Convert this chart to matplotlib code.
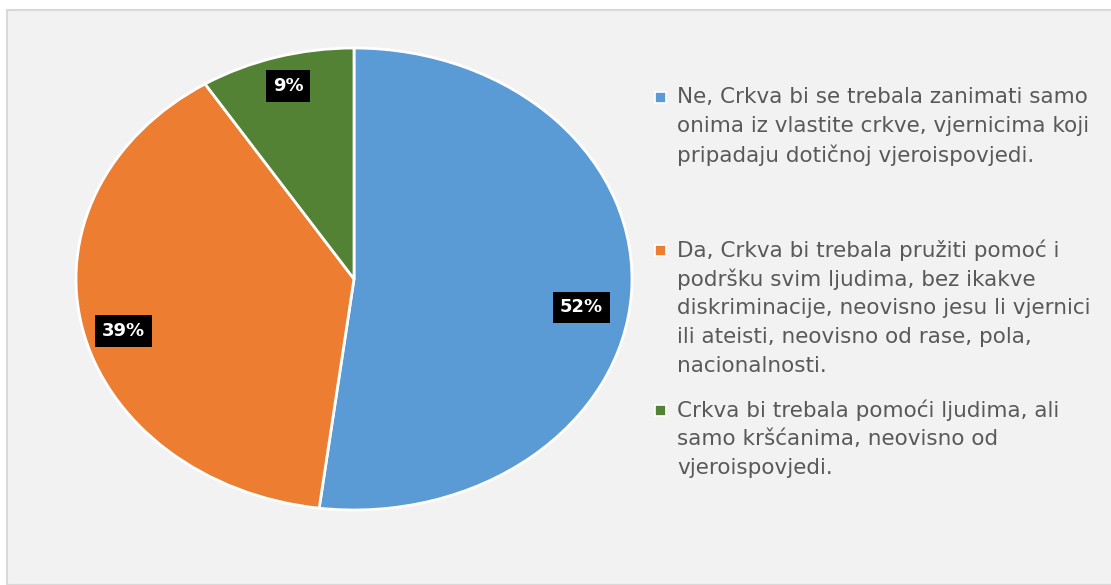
import matplotlib
matplotlib.use("Agg")
import matplotlib.pyplot as plt
from matplotlib.patches import Rectangle

categories = [
    "Ne, Crkva bi se trebala zanimati samo\nonima iz vlastite crkve, vjernicima koji\npripadaju dotičnoj vjeroispovjedi.",
    "Da, Crkva bi trebala pružiti pomoć i\npodršku svim ljudima, bez ikakve\ndiskriminacije, neovisno jesu li vjernici\nili ateisti, neovisno od rase, pola,\nnacionalnosti.",
    "Crkva bi trebala pomoći ljudima, ali\nsamo kršćanima, neovisno od\nvjeroispovjedi.",
]
values = [52, 39, 9]
colors = ["#5B9BD5", "#ED7D31", "#548235"]

W, H = 1111, 585
fig = plt.figure(figsize=(W / 100, H / 100), dpi=100)
fig.patch.set_facecolor("white")

# chart area background with border
bg = Rectangle((7 / W, 0), 1.0, (H - 10) / H, transform=fig.transFigure,
               facecolor="#F2F2F2", edgecolor="#D9D9D9", linewidth=1.5, zorder=-10)
fig.patches.append(bg)

# pie axes mapped to ellipse
left, right, top, bottom = 76, 632, 48, 510
ax = fig.add_axes([left / W, (H - bottom) / H, (right - left) / W, (bottom - top) / H])
ax.set_zorder(2)
ax.set_facecolor("none")
wedges, texts, autotexts = ax.pie(
    values, colors=colors, startangle=90, counterclock=False,
    wedgeprops=dict(edgecolor="white", linewidth=2),
    autopct="%d%%", pctdistance=0.85,
    textprops=dict(color="white", fontsize=13, fontweight="bold", family="DejaVu Sans"),
)
# small label nudges (layout only, axes units)
nudges = [(-0.03, -0.07), (0.0, -0.04), (0.0, 0.02)]
for t, (dx, dy) in zip(autotexts, nudges):
    x, y = t.get_position()
    t.set_position((x + dx, y + dy))
    t.set_bbox(dict(facecolor="black", edgecolor="none", boxstyle="square,pad=0.38"))
ax.set_aspect("auto")
ax.set_xlim(-1, 1)
ax.set_ylim(-1, 1)
ax.axis("off")

# legend
line_h = 29
starts = [97, 250, 410]
for cat, col, y0 in zip(categories, colors, starts):
    fig.patches.append(Rectangle((655 / W, (H - y0 - 6) / H), 11 / W, 11 / H,
                                 transform=fig.transFigure, facecolor=col,
                                 edgecolor="white", linewidth=1.2, zorder=3))
    for i, line in enumerate(cat.split("\n")):
        fig.text(677 / W, (H - (y0 + i * line_h)) / H, line, fontsize=15.5,
                 color="#595959", va="center", ha="left", family="DejaVu Sans")

fig.savefig("out.png", dpi=100)
